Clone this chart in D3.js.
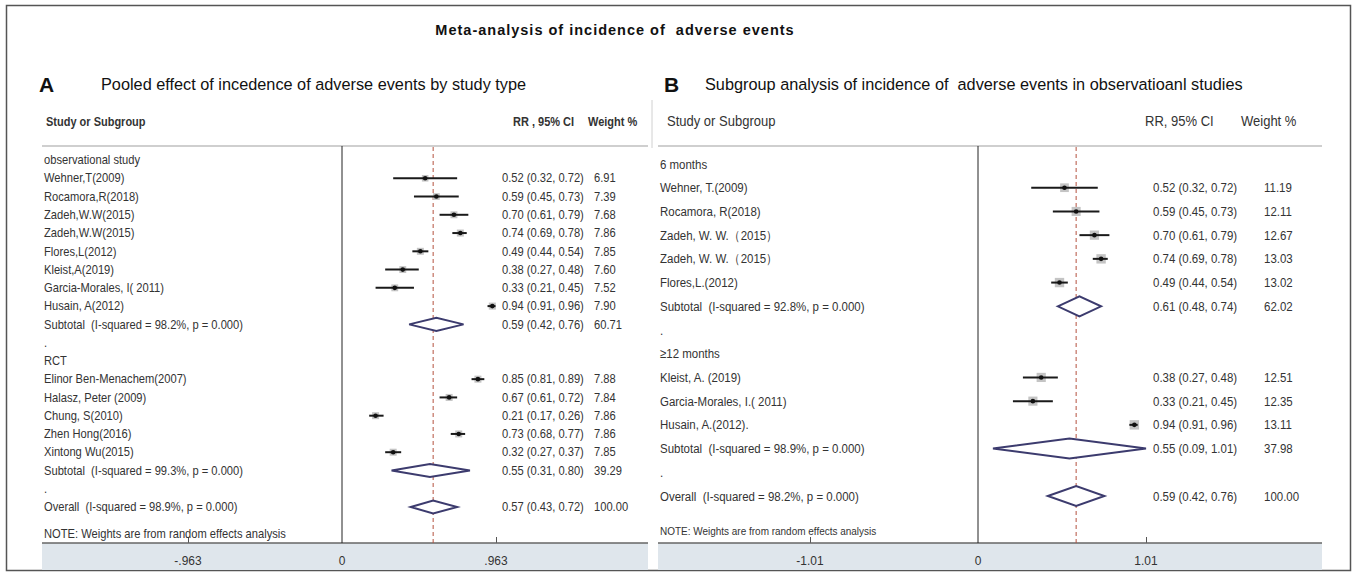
<!DOCTYPE html>
<html>
<head>
<meta charset="utf-8">
<script src="https://cdn.jsdelivr.net/npm/d3@7"></script>
<style>
  html, body { margin: 0; padding: 0; background: #fff; }
  svg text { white-space: pre; }
</style>
</head>
<body>
<svg id="chart" width="1357" height="573"></svg>
<script>
// ---- Panel A: pooled effect by study type ----
const aLabels = [
  "observational study", "Wehner,T(2009)", "Rocamora,R(2018)", "Zadeh,W.W(2015)", "Zadeh,W.W(2015)",
  "Flores,L(2012)", "Kleist,A(2019)", "Garcia-Morales, I( 2011)", "Husain, A(2012)",
  "Subtotal  (I-squared = 98.2%, p = 0.000)", ".", "RCT", "Elinor Ben-Menachem(2007)",
  "Halasz, Peter (2009)", "Chung, S(2010)", "Zhen Hong(2016)", "Xintong Wu(2015)",
  "Subtotal  (I-squared = 99.3%, p = 0.000)", ".", "Overall  (I-squared = 98.9%, p = 0.000)"
];
const aKinds = [
  "group", "study", "study", "study", "study", "study", "study", "study", "study",
  "pooled", "gap", "group", "study", "study", "study", "study", "study", "pooled", "gap", "pooled"
];
const aRR     = [null, 0.52, 0.59, 0.70, 0.74, 0.49, 0.38, 0.33, 0.94, 0.59, null, null, 0.85, 0.67, 0.21, 0.73, 0.32, 0.55, null, 0.57];
const aLower  = [null, 0.32, 0.45, 0.61, 0.69, 0.44, 0.27, 0.21, 0.91, 0.42, null, null, 0.81, 0.61, 0.17, 0.68, 0.27, 0.31, null, 0.43];
const aUpper  = [null, 0.72, 0.73, 0.79, 0.78, 0.54, 0.48, 0.45, 0.96, 0.76, null, null, 0.89, 0.72, 0.26, 0.77, 0.37, 0.80, null, 0.72];
const aWeight = [null, 6.91, 7.39, 7.68, 7.86, 7.85, 7.60, 7.52, 7.90, 60.71, null, null, 7.88, 7.84, 7.86, 7.86, 7.85, 39.29, null, 100.00];
const aTicks  = [-0.963, 0, 0.963];
const aTickLabels = ["-.963", "0", ".963"];

// ---- Panel B: subgroup analysis by follow-up ----
const bLabels = [
  "6 months", "Wehner, T.(2009)", "Rocamora, R(2018)", "Zadeh, W. W.（2015）", "Zadeh, W. W.（2015）",
  "Flores,L.(2012)", "Subtotal  (I-squared = 92.8%, p = 0.000)", ".", "≥12 months",
  "Kleist, A. (2019)", "Garcia-Morales, I.( 2011)", "Husain, A.(2012).",
  "Subtotal  (I-squared = 98.9%, p = 0.000)", ".", "Overall  (I-squared = 98.2%, p = 0.000)"
];
const bKinds = [
  "group", "study", "study", "study", "study", "study", "pooled", "gap", "group",
  "study", "study", "study", "pooled", "gap", "pooled"
];
const bRR     = [null, 0.52, 0.59, 0.70, 0.74, 0.49, 0.61, null, null, 0.38, 0.33, 0.94, 0.55, null, 0.59];
const bLower  = [null, 0.32, 0.45, 0.61, 0.69, 0.44, 0.48, null, null, 0.27, 0.21, 0.91, 0.09, null, 0.42];
const bUpper  = [null, 0.72, 0.73, 0.79, 0.78, 0.54, 0.74, null, null, 0.48, 0.45, 0.96, 1.01, null, 0.76];
const bWeight = [null, 11.19, 12.11, 12.67, 13.03, 13.02, 62.02, null, null, 12.51, 12.35, 13.11, 37.98, null, 100.00];
const bTicks  = [-1.01, 0, 1.01];
const bTickLabels = ["-1.01", "0", "1.01"];

const SANS = "'Liberation Sans', Arial, sans-serif";
const TEXT = "#333";
const f2 = d3.format(".2f");

const svg = d3.select("#chart");

// Text set in a horizontally condensed face (narrow sans look)
function narrowText(parent, x, y, str, size, squeeze, opts = {}) {
  const t = parent.append("text")
    .attr("transform", `translate(${x},${y}) scale(${squeeze},1)`)
    .attr("font-family", SANS).attr("font-size", size)
    .attr("fill", opts.fill || TEXT)
    .attr("font-weight", opts.weight || "normal")
    .attr("text-anchor", opts.anchor || "start")
    .text(str);
  return t;
}

// outer frame
svg.append("rect")
  .attr("x", 6.5).attr("y", 5.5).attr("width", 1344).attr("height", 565)
  .attr("fill", "none").attr("stroke", "#555").attr("stroke-width", 1.5);

svg.append("text")
  .attr("x", 615).attr("y", 35).attr("text-anchor", "middle")
  .attr("font-family", SANS).attr("font-weight", "bold").attr("font-size", 14.5)
  .attr("letter-spacing", 1.0).attr("fill", "#111")
  .text("Meta-analysis of incidence of  adverse events");

function drawPanel(cfg, d) {
  const g = svg.append("g");

  // panel letter and subtitle
  g.append("text").attr("x", cfg.letterX).attr("y", 92)
    .attr("font-family", SANS).attr("font-weight", "bold").attr("font-size", 21)
    .attr("fill", "#111").text(cfg.letter);
  g.append("text").attr("x", cfg.subX).attr("y", 90)
    .attr("font-family", SANS).attr("font-size", 16.3).attr("fill", "#111").text(cfg.subtitle);

  const x = d3.scaleLinear().domain([d.ticks[0], d.ticks[2]]).range(cfg.tickRange);
  const y = d3.scaleLinear().domain([0, d.labels.length - 1]).range(cfg.rowRange);

  // column headers
  const hw = cfg.headWeight;
  narrowText(g, cfg.studyHeadX, 126, "Study or Subgroup", cfg.headSize, cfg.headSqueeze, { weight: hw });
  narrowText(g, cfg.effHeadX, 126, cfg.effHead, cfg.headSize, cfg.headSqueeze, { weight: hw });
  narrowText(g, cfg.wHeadX, 126, "Weight %", cfg.headSize, cfg.headSqueeze, { weight: hw });

  // header rule and axis band
  g.append("line").attr("x1", cfg.left).attr("x2", cfg.right).attr("y1", 146).attr("y2", 146)
    .attr("stroke", "#cfcfcf").attr("stroke-width", 2);
  g.append("rect").attr("x", cfg.left).attr("y", 543).attr("width", cfg.right - cfg.left).attr("height", 27)
    .attr("fill", "#dfe6ec");

  // x axis along the top of the band
  const axis = d3.axisTop(x).tickValues(d.ticks).tickSize(6).tickFormat("");
  const ax = g.append("g").attr("transform", "translate(0,543)").call(axis);
  ax.select(".domain").remove();
  ax.selectAll(".tick line").attr("stroke", "#555");
  ax.selectAll(".tick").filter(v => v === 0).select("line").remove();
  g.append("line").attr("x1", cfg.left).attr("x2", cfg.right).attr("y1", 543).attr("y2", 543)
    .attr("stroke", "#666").attr("stroke-width", 1.5);
  d.ticks.forEach((v, i) => {
    narrowText(g, x(v), 565, d.tickLabels[i], 13, 0.92, { anchor: "middle" });
  });

  // null line and overall-estimate line
  g.append("line").attr("x1", x(0)).attr("x2", x(0)).attr("y1", 146).attr("y2", 543)
    .attr("stroke", "#222").attr("stroke-width", 1);
  const overall = d.rr[d.rr.length - 1];
  g.append("line").attr("x1", x(overall)).attr("x2", x(overall)).attr("y1", 147).attr("y2", 543)
    .attr("stroke", "#b4513f").attr("stroke-width", 1).attr("stroke-dasharray", "4,3");

  const rows = d.labels.map((label, i) => ({
    i, label, kind: d.kinds[i], rr: d.rr[i], lo: d.lower[i], hi: d.upper[i], w: d.weight[i]
  }));

  // study labels, estimates and weights
  rows.forEach(r => {
    const ty = y(r.i) + cfg.textDy;
    narrowText(g, cfg.left + 2, ty, r.label, cfg.rowSize, cfg.rowSqueeze);
    if (r.rr != null) {
      narrowText(g, cfg.effX, ty, `${f2(r.rr)} (${f2(r.lo)}, ${f2(r.hi)})`, cfg.rowSize, cfg.rowSqueeze);
      narrowText(g, cfg.wX, ty, f2(r.w), cfg.rowSize, cfg.rowSqueeze);
    }
  });

  const est = rows.filter(r => r.rr != null);

  // individual studies: weight box, CI line, point
  const studies = est.filter(r => r.kind === "study");
  const side = r => cfg.boxK * Math.sqrt(r.w);
  g.selectAll(".box").data(studies).join("rect")
    .attr("x", r => x(r.rr) - side(r) / 2)
    .attr("y", r => y(r.i) - side(r) / 2)
    .attr("width", side)
    .attr("height", side)
    .attr("fill", "#c4c4c4");
  g.selectAll(".ci").data(studies).join("line")
    .attr("x1", r => x(r.lo)).attr("x2", r => x(r.hi))
    .attr("y1", r => y(r.i)).attr("y2", r => y(r.i))
    .attr("stroke", "#1a1a1a").attr("stroke-width", 2);
  g.selectAll(".pt").data(studies).join("circle")
    .attr("cx", r => x(r.rr)).attr("cy", r => y(r.i)).attr("r", 2.3)
    .attr("fill", "#111");

  // pooled estimates as diamonds
  const pooled = est.filter(r => r.kind === "pooled");
  g.selectAll(".dia").data(pooled).join("path")
    .attr("d", r => {
      const cy = y(r.i), h = cfg.diaH / 2;
      return `M${x(r.lo)},${cy} L${x(r.rr)},${cy - h} L${x(r.hi)},${cy} L${x(r.rr)},${cy + h} Z`;
    })
    .attr("fill", "#fff").attr("stroke", "#3c3b6e").attr("stroke-width", 2);

  // footnote
  narrowText(g, cfg.left + 2, cfg.noteY, "NOTE: Weights are from random effects analysis",
    cfg.noteSize, cfg.noteSqueeze);
}

drawPanel({
  letter: "A", letterX: 39, subX: 101,
  subtitle: "Pooled effect of incedence of adverse events by study type",
  left: 42, right: 648, tickRange: [188, 496], rowRange: [160, 507],
  effX: 502, wX: 594, studyHeadX: 46, effHeadX: 513, wHeadX: 588, effHead: "RR , 95% CI",
  headSize: 12.5, headWeight: "bold", headSqueeze: 0.88,
  rowSize: 12, rowSqueeze: 0.93, textDy: 4.2, diaH: 13, boxK: 2.5,
  noteY: 538, noteSize: 12, noteSqueeze: 0.93
}, {
  labels: aLabels, kinds: aKinds, rr: aRR, lower: aLower, upper: aUpper, weight: aWeight,
  ticks: aTicks, tickLabels: aTickLabels
});

drawPanel({
  letter: "B", letterX: 664, subX: 705,
  subtitle: "Subgroup analysis of incidence of  adverse events in observatioanl studies",
  left: 658, right: 1322, tickRange: [810, 1146], rowRange: [164, 496],
  effX: 1153, wX: 1264, studyHeadX: 667, effHeadX: 1145, wHeadX: 1241, effHead: "RR, 95% CI",
  headSize: 14, headWeight: "normal", headSqueeze: 0.93,
  rowSize: 13.5, rowSqueeze: 0.85, textDy: 4.6, diaH: 20, boxK: 2.6,
  noteY: 535, noteSize: 10.5, noteSqueeze: 0.95
}, {
  labels: bLabels, kinds: bKinds, rr: bRR, lower: bLower, upper: bUpper, weight: bWeight,
  ticks: bTicks, tickLabels: bTickLabels
});

// faint divider between the two panels
svg.append("line").attr("x1", 652).attr("x2", 652).attr("y1", 100).attr("y2", 148)
  .attr("stroke", "#d0d0d0").attr("stroke-width", 1);
</script>
</body>
</html>
